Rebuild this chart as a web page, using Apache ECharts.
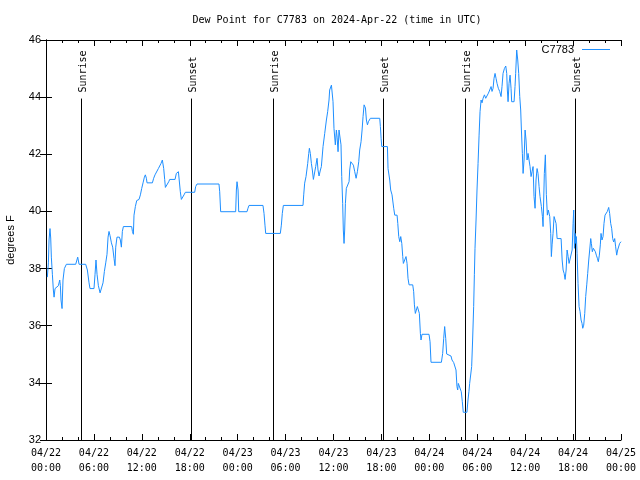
<!DOCTYPE html>
<html>
<head>
<meta charset="utf-8">
<script src="https://cdn.jsdelivr.net/npm/echarts@6/dist/echarts.min.js"></script>
<style>html,body{margin:0;padding:0;background:#fff}#c{width:640px;height:480px}</style>
</head>
<body>
<div id="c"></div>
<script>
// hours since 2024-04-22 00:00 UTC
var hours = [0.17,0.30,0.38,0.50,0.59,0.67,0.80,0.92,1.01,1.13,1.30,1.55,1.72,1.80,1.88,2.01,2.13,2.30,2.55,3.72,3.97,4.14,4.30,4.97,5.18,5.39,5.51,6.01,6.14,6.26,6.39,6.56,6.77,6.97,7.14,7.31,7.48,7.64,7.77,7.89,8.02,8.19,8.35,8.52,8.64,8.73,8.89,9.19,9.31,9.44,9.56,9.69,10.73,10.82,10.94,11.02,11.19,11.36,11.65,11.82,11.98,12.15,12.32,12.44,
12.57,12.65,13.32,13.48,13.65,13.9,14.07,14.32,14.4,14.57,14.65,14.74,14.86,14.95,15.2,15.37,15.49,16.16,16.32,16.58,16.74,16.82,16.95,17.16,17.28,17.45,18.62,18.74,18.91,21.66,21.75,21.87,23.75,23.84,23.92,24.05,24.13,
25.17,25.29,25.42,27.17,27.3,27.42,27.51,29.34,29.47,29.59,29.72,32.18,32.27,32.39,32.56,32.69,32.77,32.9,32.98,33.1,33.23,33.35,33.48,33.69,33.77,33.94,34.06,34.19,34.36,34.48,34.69,34.9,35.11,35.27,35.44,35.52,35.6,35.74,
35.94,36.06,36.23,36.36,36.45,36.57,36.69,36.82,36.94,37.03,37.15,37.23,37.32,37.4,37.49,37.61,37.82,37.95,38.03,38.16,38.32,38.49,38.66,38.83,38.99,39.16,39.28,39.45,39.58,39.7,39.83,40.0,40.12,40.25,40.37,40.5,40.62,41.79,41.87,41.96,42.04,42.75,42.83,43.04,43.16,43.33,43.54,
43.67,43.96,44.05,44.17,44.3,44.42,44.55,44.67,44.75,44.96,45.08,45.21,45.33,45.46,45.92,46.04,46.13,46.25,46.38,46.5,46.63,46.75,46.88,46.96,47.08,47.96,48.09,48.21,49.51,49.67,49.8,49.92,50.05,50.17,50.3,50.71,50.84,51.05,51.21,51.34,51.46,51.55,51.63,51.88,52.0,52.13,52.25,52.71,52.84,52.96,53.05,53.21,53.3,53.42,53.55,
53.64,53.72,53.85,53.97,54.1,54.23,54.35,54.48,54.6,54.73,54.9,55.06,55.23,55.4,55.56,55.73,55.85,55.98,56.1,56.23,56.35,56.48,56.64,56.81,56.98,57.1,57.23,57.4,57.57,57.69,57.77,57.86,57.98,58.11,58.23,58.31,58.48,58.61,58.73,58.81,58.94,59.07,59.19,59.32,59.44,59.53,59.65,59.74,59.86,59.99,60.11,60.24,60.36,60.49,60.61,60.74,60.86,60.99,61.11,61.24,61.36,61.49,61.61,61.74,61.86,
62.03,62.16,62.24,62.4,62.53,62.65,62.78,62.9,63.08,63.2,63.28,63.37,63.49,63.62,63.74,63.87,64.0,64.5,64.63,64.75,64.88,65.0,65.13,65.25,65.38,65.5,65.75,65.88,66.0,66.08,66.17,66.25,66.33,66.41,66.5,66.62,66.75,66.87,67.0,67.12,67.21,67.33,67.46,67.58,67.71,67.83,67.96,68.08,68.21,68.29,68.41,68.54,68.66,68.79,68.91,69.04,69.16,69.29,69.41,69.5,69.62,69.75,69.87,70.0,70.17,70.29,70.46,70.58,70.71,70.83,70.96,71.08,71.21,71.33,71.46,71.58,71.71,71.83,72.0];
var dewF = [37.7,38.2,39.0,39.4,39.07,38.4,37.8,37.25,37.0,37.3,37.3,37.4,37.6,37.4,36.9,36.6,37.6,38.0,38.15,38.15,38.4,38.15,38.15,38.15,37.95,37.5,37.3,37.3,37.8,38.3,37.8,37.4,37.15,37.15,37.5,37.9,38.2,38.5,39.1,39.3,39.15,38.9,38.75,38.35,38.1,38.75,39.1,39.1,39.0,38.75,39.3,39.47,39.47,39.3,39.2,39.87,40.17,40.38,40.42,40.58,40.8,41.0,41.2,41.28,
41.16,41.0,41.0,41.16,41.28,41.33,41.5,41.57,41.68,41.8,41.86,41.5,41.12,40.84,40.84,41.04,41.12,41.12,41.33,41.39,41.33,40.69,40.42,40.42,40.58,40.67,40.67,40.87,40.96,40.96,40.69,39.99,39.99,40.75,41.04,40.75,39.99,
39.99,40.11,40.21,40.21,39.93,39.52,39.23,39.23,39.52,39.93,40.21,40.21,40.58,40.99,41.22,41.22,41.68,42.03,42.21,42.03,41.68,41.45,41.12,41.12,41.57,41.86,41.45,41.24,41.45,41.57,42.27,42.73,43.2,43.49,43.9,44.25,44.3,44.42,
43.84,42.91,42.33,42.85,42.6,42.09,42.85,42.91,42.33,41.22,40.28,39.35,38.88,39.35,40.28,40.81,40.81,41.04,41.45,41.74,41.8,41.62,41.39,41.16,41.39,41.74,42.15,42.44,42.85,43.32,43.73,43.62,43.2,43.03,43.14,43.2,43.26,43.26,42.97,42.56,42.27,42.27,41.5,41.1,40.75,40.58,40.11,
39.87,39.87,39.58,39.12,38.94,39.12,38.88,38.42,38.18,38.18,38.42,38.18,37.66,37.43,37.43,37.19,36.73,36.43,36.43,36.67,36.6,36.43,35.73,35.5,35.7,35.7,35.44,34.72,34.72,35.03,35.56,35.97,35.56,35.01,34.94,34.94,34.8,34.71,34.71,34.45,33.87,33.75,33.98,33.98,33.69,33.34,32.97,32.97,33.4,33.7,33.98,33.98,34.57,35.5,36.67,
37.8,38.71,39.7,40.75,41.68,42.67,43.49,43.9,43.8,43.96,44.08,43.96,44.02,44.14,44.25,44.37,44.2,44.31,44.66,44.83,44.66,44.48,44.31,44.2,44.02,44.37,44.83,45.0,45.09,44.83,44.25,43.84,44.48,44.77,44.31,43.84,43.78,43.84,44.37,44.83,45.65,45.3,44.83,44.02,43.55,42.85,42.03,41.33,41.8,42.85,42.5,41.8,42.03,41.98,41.57,41.22,41.39,41.57,40.52,40.11,41.1,41.5,41.33,40.87,40.52,
40.17,39.82,39.47,41.33,41.98,40.6,39.87,40.05,39.82,39.23,38.42,38.83,39.23,39.82,39.87,39.58,39.05,39.05,38.3,37.95,37.83,37.62,37.95,38.65,38.42,38.18,38.18,38.65,39.58,40.05,38.71,39.23,38.88,39.12,38.53,37.48,36.67,36.5,36.2,36.08,35.91,36.02,36.43,37.02,37.43,37.83,38.3,38.65,39.05,38.88,38.59,38.71,38.65,38.59,38.47,38.36,38.24,38.47,38.83,39.23,39.0,39.12,39.58,39.87,39.87,40.0,40.14,39.93,39.58,39.41,39.05,38.93,39.05,38.76,38.47,38.65,38.59,38.88,38.94];

var sunHours = [4.41, 18.2, 28.43, 42.16, 52.47, 66.24];
var sunLabels = ['Sunrise', 'Sunset', 'Sunrise', 'Sunset', 'Sunrise', 'Sunset'];
var yTicks = [32, 34, 36, 38, 40, 42, 44, 46];

var lineData = hours.map(function (h, i) { return [h, dewF[i]]; });
var sunData = sunHours.map(function (h) { return [h]; });

var mono = 'DejaVu Sans Mono';
var sans = 'Liberation Sans';
var lineColor = '#1e8fff';

function xLabel(v) {
  var day = 22 + Math.floor(v / 24);
  var hr = v % 24;
  return '04/' + day + '\n' + (hr < 10 ? '0' : '') + hr + ':00';
}

var chart = echarts.init(document.getElementById('c'), null, {renderer: 'canvas'});
chart.setOption({
  animation: false,
  backgroundColor: '#fff',
  title: {
    text: 'Dew Point for C7783 on 2024-Apr-22 (time in UTC)',
    left: 332, top: 10, textAlign: 'center',
    textStyle: {fontFamily: mono, fontSize: 10, fontWeight: 'normal', color: '#000'}
  },
  legend: {
    top: 39, right: 25, align: 'right', itemWidth: 28, itemHeight: 1, itemGap: 0,
    data: [{name: 'C7783', icon: 'rect', itemStyle: {color: lineColor}}],
    textStyle: {fontFamily: sans, fontSize: 11, color: '#000', padding: [0, 3, 0, 0]}
  },
  grid: {left: 46, right: 19, top: 40, bottom: 40, containLabel: false, outerBoundsMode: 'none'},
  xAxis: [{
    type: 'value', min: 0, max: 72, interval: 6, position: 'bottom',
    axisLine: {lineStyle: {color: '#000', width: 1}},
    axisTick: {inside: true, length: 6, lineStyle: {color: '#000'}},
    minorTick: {show: true, splitNumber: 3, length: 3, lineStyle: {color: '#000'}},
    splitLine: {show: false},
    axisLabel: {formatter: xLabel, fontFamily: mono, fontSize: 10, color: '#000', lineHeight: 15, margin: 6}
  }, {
    type: 'value', min: 0, max: 72, interval: 6, position: 'top',
    axisLine: {lineStyle: {color: '#000', width: 1}},
    axisTick: {inside: true, length: 6, lineStyle: {color: '#000'}},
    minorTick: {show: true, splitNumber: 3, length: 3, lineStyle: {color: '#000'}},
    splitLine: {show: false}, axisLabel: {show: false}
  }],
  yAxis: [{
    type: 'value', min: yTicks[0], max: yTicks[yTicks.length - 1], interval: 2, position: 'left',
    name: 'degrees F', nameLocation: 'middle', nameGap: 30,
    nameTextStyle: {fontFamily: sans, fontSize: 11, color: '#000'},
    axisLine: {show: true, lineStyle: {color: '#000', width: 1}},
    axisTick: {show: true, inside: true, length: 6, lineStyle: {color: '#000'}},
    splitLine: {show: false},
    axisLabel: {fontFamily: sans, fontSize: 11, color: '#000', margin: 5}
  }, {
    type: 'value', min: yTicks[0], max: yTicks[yTicks.length - 1], interval: 2, position: 'right',
    axisLine: {show: true, lineStyle: {color: '#000', width: 1}},
    axisTick: {show: true, inside: true, length: 6, lineStyle: {color: '#000'}},
    splitLine: {show: false}, axisLabel: {show: false}
  }],
  series: [{
    name: 'Sun',
    type: 'custom',
    xAxisIndex: 0, yAxisIndex: 0,
    silent: true,
    renderItem: function (params, api) {
      var t = api.value(0);
      var p0 = api.coord([t, 32]);
      var p1 = api.coord([t, 43.95]);
      var x = Math.round(p0[0]) + 0.5;
      return {
        type: 'group',
        children: [{
          type: 'line',
          shape: {x1: x, y1: p0[1], x2: x, y2: p1[1]},
          style: {stroke: '#000', lineWidth: 1}
        }, {
          type: 'text',
          x: x + 1.5, y: p1[1] - 6,
          rotation: Math.PI / 2,
          style: {text: sunLabels[params.dataIndex], fontFamily: mono, fontSize: 10, fill: '#000', align: 'left', verticalAlign: 'middle'}
        }]
      };
    },
    data: sunData,
    z: 1
  }, {
    name: 'C7783',
    type: 'line',
    xAxisIndex: 0, yAxisIndex: 0,
    data: lineData,
    symbol: 'none',
    lineStyle: {color: lineColor, width: 1},
    itemStyle: {color: lineColor},
    z: 2
  }]
});
</script>
</body>
</html>
